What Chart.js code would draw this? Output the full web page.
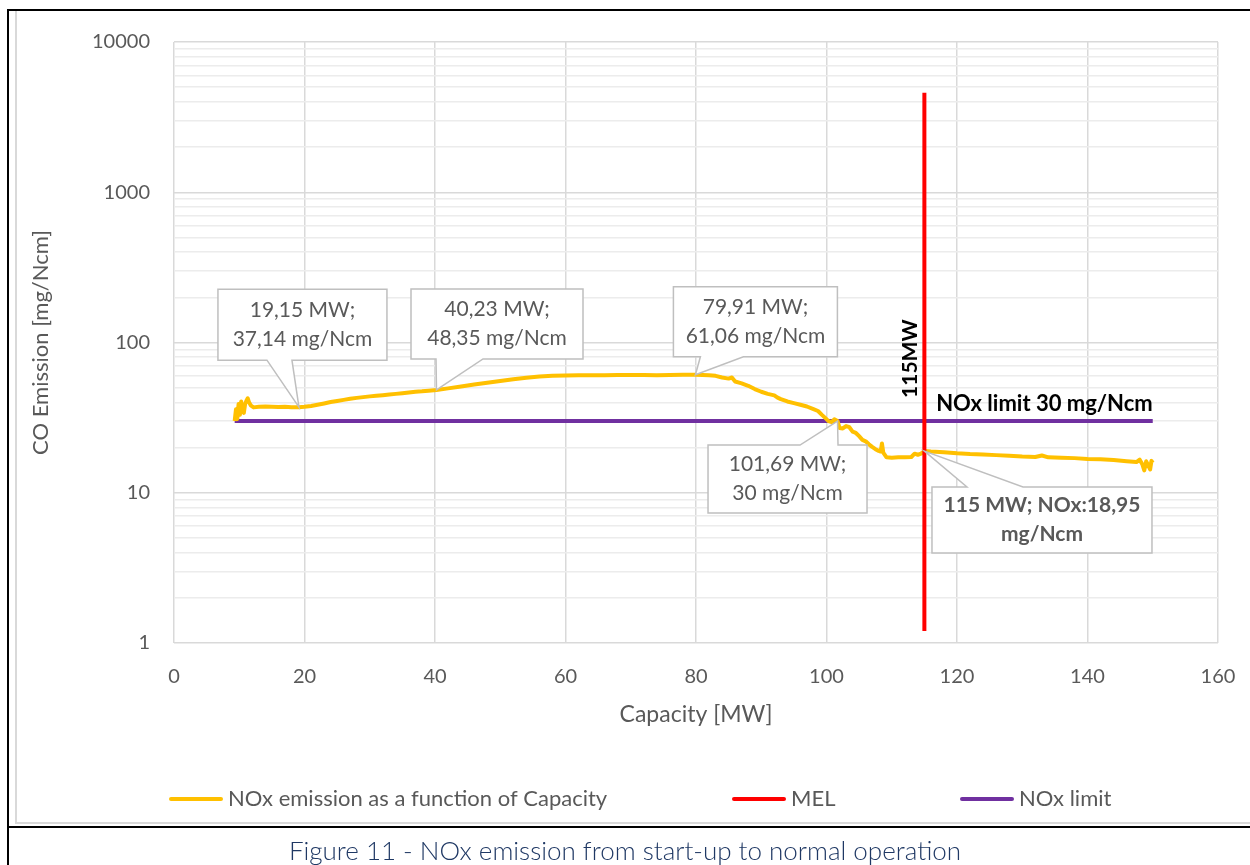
<!DOCTYPE html>
<html>
<head>
<meta charset="utf-8">
<script src="https://cdn.jsdelivr.net/npm/chart.js@4/dist/chart.umd.min.js"></script>
<style>
  html, body { margin: 0; padding: 0; background: #ffffff; }
  #wrap { position: relative; width: 1250px; height: 865px; overflow: hidden; }
  #c { position: absolute; left: 0; top: 0; }
  #caption { position: absolute; left: 0; top: 832px; width: 1250px; height: 36px; line-height: 36px;
    text-align: center; font-family: Lato, "Open Sans", sans-serif; font-weight: 300; font-size: 26px; color: #1F3864; }
</style>
</head>
<body>
<div id="wrap">
  <canvas id="c" width="1250" height="865"></canvas>
  <div id="caption">Figure 11 - NOx emission from start-up to normal operation</div>
</div>
<script>
// ---------------- DATA ----------------
const seriesNames = ['NOx emission as a function of Capacity', 'MEL', 'NOx limit'];

const capacity = [9.3, 9.5, 9.7, 9.9, 10.1, 10.3, 10.5, 10.7, 10.9, 11.1, 11.3, 11.5, 11.8, 12.2, 13, 14, 15, 16, 17, 18,
  19.15, 20, 21, 22, 23, 24, 25, 26, 27, 28, 29, 30, 31, 32, 33, 34, 35, 36, 37, 38, 39, 40.23,
  42, 44, 46, 48, 50, 52, 54, 56, 58, 60, 62, 64, 66, 68, 70, 72, 74, 76, 78, 79.91,
  81, 82, 83, 84, 85, 85.5, 86, 87, 88, 89, 90, 91, 92, 92.5, 93, 94, 95, 96, 97, 98, 98.7, 99.3, 99.8,
  100.3, 100.8, 101.2, 101.69, 102, 102.5, 103, 103.5, 104, 104.5, 105, 105.5, 106, 106.5, 107, 107.5, 108,
  108.3, 108.5, 108.7, 109.2, 110, 111, 112, 113, 113.5, 114, 114.5, 115,
  116, 118, 120, 122, 124, 126, 128, 130, 132, 133, 134, 136, 138, 140, 142, 144, 146, 147.5,
  148, 148.4, 148.7, 149, 149.3, 149.6, 149.8, 150];

const noxEmission = [30, 36, 31, 39, 33, 40.5, 35, 34, 39, 41, 42.5, 40, 38, 37, 37.3, 37.5, 37.4, 37.2, 37.3, 37.1,
  37.14, 37.3, 37.8, 38.5, 39.3, 40.2, 40.8, 41.5, 42.2, 42.8, 43.3, 43.8, 44.2, 44.6, 45, 45.5, 46, 46.5, 47, 47.3, 47.8, 48.35,
  49.5, 51, 52.5, 54, 55.5, 57, 58.3, 59.3, 60, 60.3, 60.5, 60.6, 60.6, 60.7, 60.8, 60.7, 60.6, 60.7, 61, 61.06,
  60.8, 60.5, 60, 58.5, 57.5, 58.5, 55, 53.5, 51.5, 49, 47, 45.5, 44.5, 43, 42, 40.5, 39.5, 38.5, 37.5, 36, 35, 33, 31.5,
  30, 29.5, 30.8, 30, 27, 26.8, 27.8, 27.3, 25.5, 25, 23.8, 22.5, 22, 21, 20.2, 19.5, 19,
  18.8, 21.3, 18.5, 17.2, 17.1, 17.2, 17.2, 17.3, 18.2, 17.9, 18.2, 18.95,
  18.8, 18.6, 18.3, 18.1, 18, 17.8, 17.6, 17.4, 17.3, 17.7, 17.2, 17.1, 17, 16.8, 16.7, 16.5, 16.2, 16,
  16.6, 15.5, 14.1, 16.2, 15.2, 14.3, 16.3, 15.8];

const melCapacity = [115, 115];
const melEmission = [1.2, 4600];

const limitCapacity = [9.3, 150];
const limitEmission = [30, 30];

const xTickValues = [0, 20, 40, 60, 80, 100, 120, 140, 160];
const yTickLabels = ['1', '10', '100', '1000', '10000'];
const yMajorValues = [1, 10, 100, 1000, 10000];

// Data-label callouts
const calloutCapacity = [19.15, 40.23, 79.91, 101.69, 115];
const calloutEmission = [37.14, 48.35, 61.06, 30, 18.95];
const calloutText = [
  ['19,15 MW;', '37,14 mg/Ncm'],
  ['40,23 MW;', '48,35 mg/Ncm'],
  ['79,91 MW;', '61,06 mg/Ncm'],
  ['101,69 MW;', '30 mg/Ncm'],
  ['115 MW; NOx:18,95', 'mg/Ncm']
];
const melLabel = '115MW';
const limitLabel = 'NOx limit 30 mg/Ncm';
const xTitle = 'Capacity [MW]';
const yTitle = 'CO Emission [mg/Ncm]';

// ---------------- LAYOUT / STYLE ----------------
const FONT = 'Lato, "Open Sans", sans-serif';
const TXT = '#595959';
const calloutLayout = [ // pixel offsets of box relative to anchor, wedge base offsets from box left
  { dx: -81, dy: -118, w: 169, h: 71, edge: 'bottom', b1: 49, b2: 74, bold: false },
  { dx: -25.5, dy: -101, w: 172, h: 70, edge: 'bottom', b1: 25, b2: 72, bold: false },
  { dx: -22, dy: -88, w: 164, h: 70, edge: 'bottom', b1: 27, b2: 70, bold: false },
  { dx: -129.5, dy: 24, w: 159, h: 68, edge: 'top', b1: 92, b2: 130, bold: false },
  { dx: 7.6, dy: 36, w: 220, h: 66, edge: 'top', b1: 35, b2: 91, bold: true }
];

const toPts = (xs, ys) => xs.map((x, i) => ({ x: x, y: ys[i] }));

const yGridValues = [];
for (let d = 0; d < 4; d++) {
  for (let k = 1; k <= 9; k++) yGridValues.push(yMajorValues[d] * k);
}
yGridValues.push(10000);

const framePlugin = {
  id: 'frame',
  beforeDraw(chart) {
    const ctx = chart.ctx;
    ctx.save();
    ctx.fillStyle = '#ffffff';
    ctx.fillRect(0, 0, chart.width, chart.height);
    ctx.strokeStyle = '#d9d9d9';
    ctx.lineWidth = 2;
    ctx.beginPath();
    ctx.moveTo(16, 11); ctx.lineTo(16, 823); ctx.lineTo(1250, 823);
    ctx.stroke();
    ctx.strokeStyle = '#000000';
    ctx.lineWidth = 2;
    ctx.beginPath();
    ctx.moveTo(8, 865); ctx.lineTo(8, 10); ctx.lineTo(1250, 10);
    ctx.moveTo(8, 827); ctx.lineTo(1250, 827);
    ctx.stroke();
    ctx.restore();
  }
};

const annotPlugin = {
  id: 'annot',
  afterDatasetsDraw(chart) {
    const ctx = chart.ctx;
    const xs = chart.scales.x, ys = chart.scales.y;
    ctx.save();
    calloutCapacity.forEach((cx, i) => {
      const ax = xs.getPixelForValue(cx), ay = ys.getPixelForValue(calloutEmission[i]);
      const L = calloutLayout[i];
      const left = ax + L.dx, top = ay + L.dy, right = left + L.w, bottom = top + L.h;
      ctx.beginPath();
      if (L.edge === 'bottom') {
        ctx.moveTo(left, top); ctx.lineTo(right, top); ctx.lineTo(right, bottom);
        ctx.lineTo(left + L.b2, bottom); ctx.lineTo(ax, ay); ctx.lineTo(left + L.b1, bottom);
        ctx.lineTo(left, bottom); ctx.closePath();
      } else {
        ctx.moveTo(left, top); ctx.lineTo(left + L.b1, top); ctx.lineTo(ax, ay); ctx.lineTo(left + L.b2, top);
        ctx.lineTo(right, top); ctx.lineTo(right, bottom); ctx.lineTo(left, bottom); ctx.closePath();
      }
      ctx.fillStyle = '#ffffff';
      ctx.fill();
      ctx.strokeStyle = '#bfbfbf';
      ctx.lineWidth = 1.5;
      ctx.stroke();
      ctx.fillStyle = TXT;
      ctx.font = (L.bold ? 'bold 21px ' : '21px ') + FONT;
      ctx.textAlign = 'center';
      ctx.textBaseline = 'middle';
      const cxp = (left + right) / 2, cyp = (top + bottom) / 2;
      const lines = calloutText[i];
      const lh = 29;
      lines.forEach((t, j) => {
        ctx.fillText(t, cxp, cyp + (j - (lines.length - 1) / 2) * lh);
      });
    });
    ctx.fillStyle = '#000000';
    ctx.font = 'bold 21px ' + FONT;
    ctx.textAlign = 'center';
    ctx.textBaseline = 'middle';
    ctx.save();
    ctx.translate(xs.getPixelForValue(melCapacity[0]) - 14, ys.getPixelForValue(78));
    ctx.rotate(-Math.PI / 2);
    ctx.fillText(melLabel, 0, 0);
    ctx.restore();
    ctx.font = 'bold 22px ' + FONT;
    ctx.textAlign = 'right';
    ctx.fillText(limitLabel, xs.getPixelForValue(limitCapacity[1]), ys.getPixelForValue(limitEmission[1]) - 17);
    ctx.restore();
  },
  afterDraw(chart) {
    const ctx = chart.ctx;
    const samples = [169, 732, 960];
    const y = 799;
    ctx.save();
    chart.data.datasets.forEach((ds, i) => {
      ctx.strokeStyle = ds.borderColor;
      ctx.lineWidth = 4;
      ctx.lineCap = 'round';
      ctx.beginPath();
      ctx.moveTo(samples[i] + 2, y); ctx.lineTo(samples[i] + 52, y);
      ctx.stroke();
      ctx.fillStyle = TXT;
      ctx.font = '22px ' + FONT;
      ctx.textAlign = 'left';
      ctx.textBaseline = 'middle';
      ctx.fillText(ds.label, samples[i] + 59, y);
    });
    ctx.restore();
  }
};

new Chart(document.getElementById('c'), {
  type: 'scatter',
  data: {
    datasets: [
      { label: seriesNames[0], data: toPts(capacity, noxEmission), showLine: true, borderColor: '#FFC000',
        backgroundColor: '#FFC000', borderWidth: 4, pointRadius: 0, order: 1, borderJoinStyle: 'round' },
      { label: seriesNames[1], data: toPts(melCapacity, melEmission), showLine: true, borderColor: '#FF0000',
        backgroundColor: '#FF0000', borderWidth: 4, pointRadius: 0, order: 0 },
      { label: seriesNames[2], data: toPts(limitCapacity, limitEmission), showLine: true, borderColor: '#7030A0',
        backgroundColor: '#7030A0', borderWidth: 4, pointRadius: 0, order: 2 }
    ]
  },
  options: {
    responsive: false,
    animation: false,
    layout: { padding: { left: 28, top: 42, right: 32, bottom: 137 } },
    plugins: { legend: { display: false }, tooltip: { enabled: false } },
    scales: {
      x: {
        type: 'linear', min: 0, max: 160,
        afterBuildTicks: (s) => { s.ticks = xTickValues.map(v => ({ value: v })); },
        afterFit: (s) => { s.height = 85; s.paddingLeft = 0; s.paddingRight = 0; },
        ticks: { color: TXT, font: { family: FONT, size: 20 }, padding: 22, autoSkip: false },
        grid: { color: '#d9d9d9', lineWidth: 1.5, drawTicks: false },
        border: { display: false },
        title: { display: true, text: xTitle, color: TXT, font: { family: FONT, size: 23 }, padding: 0 }
      },
      y: {
        type: 'logarithmic', min: 1, max: 10000,
        afterBuildTicks: (s) => { s.ticks = yGridValues.map(v => ({ value: v, major: yMajorValues.includes(v) })); },
        afterFit: (s) => { s.width = 146; s.paddingTop = 0; s.paddingBottom = 0; },
        ticks: {
          color: TXT, font: { family: FONT, size: 20 }, padding: 24, autoSkip: false,
          callback: (v) => { const i = yMajorValues.indexOf(v); return i >= 0 ? yTickLabels[i] : ''; }
        },
        grid: {
          color: (c) => (c.tick && yMajorValues.includes(c.tick.value)) ? '#d9d9d9' : '#ececec',
          lineWidth: 1.5, drawTicks: false
        },
        border: { display: false },
        title: { display: true, text: yTitle, color: TXT, font: { family: FONT, size: 22 }, padding: 0 }
      }
    }
  },
  plugins: [framePlugin, annotPlugin]
});
</script>
</body>
</html>
